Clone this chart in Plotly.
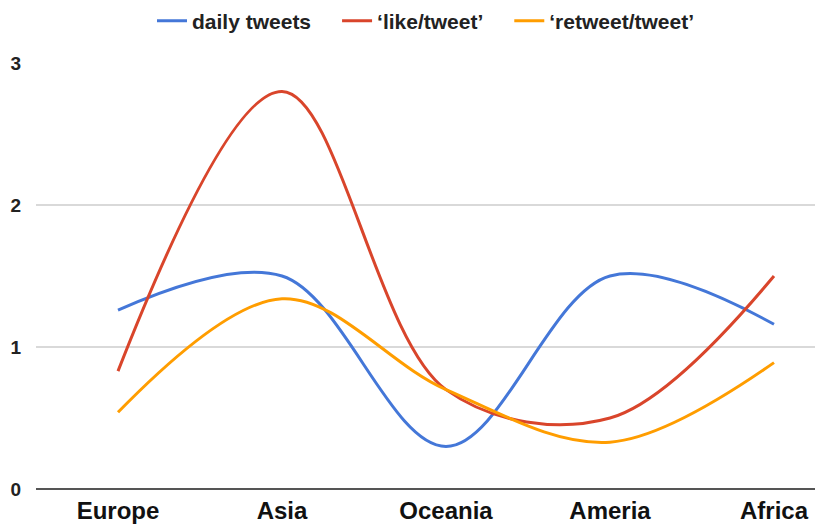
import plotly.graph_objects as go

regions = ["Europe", "Asia", "Oceania", "Ameria", "Africa"]
daily_tweets = [1.26, 1.50, 0.30, 1.50, 1.16]
like_per_tweet = [0.83, 2.80, 0.70, 0.50, 1.50]
retweet_per_tweet = [0.54, 1.34, 0.70, 0.33, 0.89]

series = [
    ("daily tweets", daily_tweets, "#4477d8"),
    ("\u2018like/tweet\u2019", like_per_tweet, "#d9452b"),
    ("\u2018retweet/tweet\u2019", retweet_per_tweet, "#ff9d00"),
]

FONT = "Liberation Sans, Arial, sans-serif"
GAP = "\u2003"  # extra room after a legend label, before the next entry

fig = go.Figure()
for i, (name, vals, color) in enumerate(series):
    label = name + (GAP if i < len(series) - 1 else "")
    fig.add_trace(go.Scatter(
        x=regions, y=vals, name=label, mode="lines",
        line=dict(color=color, width=3, shape="spline", smoothing=1.0),
    ))

fig.update_layout(
    width=815, height=525,
    margin=dict(l=36, r=0, t=63, b=36),
    paper_bgcolor="white", plot_bgcolor="white",
    font=dict(family=FONT, color="#222"),
    legend=dict(
        orientation="h", x=0.5, xanchor="center",
        y=0.96, yanchor="middle", yref="container",
        font=dict(size=21, family=FONT, weight="bold", color="#222"),
        itemwidth=30,
    ),
    xaxis=dict(
        range=[-0.5, 4.25], showgrid=False, ticks="", zeroline=False,
        showline=False, ticklabelstandoff=5,
        tickfont=dict(size=24, weight="bold", color="#111"),
    ),
    yaxis=dict(
        range=[0, 3], tickvals=[0, 1, 2, 3], showgrid=True,
        gridcolor="#d9d9d9", gridwidth=1.5, zeroline=True,
        zerolinecolor="#555", zerolinewidth=2,
        tickfont=dict(size=19, weight="bold", color="#222"),
        ticks="", ticklabelstandoff=14,
    ),
)

fig.write_html("out.html")
